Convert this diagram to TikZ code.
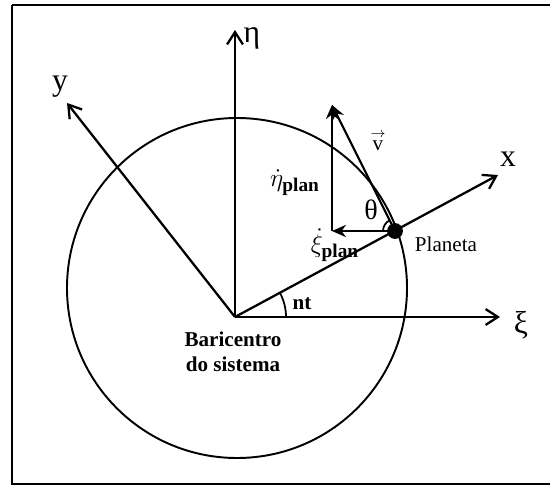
\documentclass[tikz,border=0pt]{standalone}
\usepackage{fontspec}
\setmainfont{Liberation Serif}
\usetikzlibrary{arrows.meta,calc}
\begin{document}
\begin{tikzpicture}[x=0.02cm,y=-0.02cm,
  axis/.style={line width=1.3pt,-{Straight Barb[length=7pt,width=9pt,line width=1.3pt]}},
  comp/.style={line width=1.2pt,-{Stealth[length=8pt,width=7pt]}},
  lbl/.style={inner sep=0pt,font=\fontsize{12}{14}\selectfont},
  big/.style={inner sep=0pt,font=\fontsize{18}{20}\selectfont}]
\useasboundingbox (0,0) rectangle (550,486);
% frame
\draw[line width=1.3pt] (12,5) -- (560,5) (12,5) -- (12,484) -- (560,484);
% circle (orbit)
\draw[line width=1.1pt] (237,288) circle[radius=170];
% origin and planet
\coordinate (O) at (235,317);
\node[circle,fill,inner sep=0pt,minimum size=9pt] (P) at (395,231) {};
\coordinate (etaTip) at (235,30);
\coordinate (xiTip) at (500,317);
\coordinate (xTip) at (498,175);
\coordinate (yTip) at (67,103);
\coordinate (vTip) at (332,105);
\coordinate (hTip) at (332,231);
% axes
\draw[axis] (O) -- (etaTip);
\draw[axis] (O) -- (xiTip);
\draw[axis] (O) -- (xTip);
\draw[axis] (O) -- (yTip);
% velocity components
\draw[comp] (P.center) -- (hTip);
\draw[comp] (hTip) -- (vTip);
\draw[comp] (P.center) -- (vTip);
% angles
\draw[line width=1pt] ($(O)+(51,0)$) arc[start angle=0,end angle=-28.4,radius=51];
\draw[line width=1pt] (383,231) arc[start angle=-180,end angle=-116.6,radius=12];
% labels
\node[big] (etaL) at (252,38) {η};
\node[big] (xiL) at (521,325) {ξ};
\node[big] (xL) at (508,159) {x};
\node[big] (yL) at (60,87) {y};
\node[lbl,font=\bfseries\fontsize{12}{14}\selectfont] (ntL) at (302,304) {nt};
\node[lbl,font=\bfseries\fontsize{12}{14}\selectfont,align=center] (bar) at (233,352) {Baricentro\\do sistema};
\node[lbl] (plan) at (446,244) {Planeta};
\node[big,font=\fontsize{16}{18}\selectfont] (thL) at (371,210) {θ};
\node[lbl] (vL) at (378,141) {$\stackrel{\rightarrow}{\mathrm{v}}$};
\node[lbl,font=\fontsize{14}{16}\selectfont] (etaP) at (295,183) {$\dot\eta_{\textbf{\fontsize{11}{13}\selectfont plan}}$};
\node[lbl,font=\fontsize{14}{16}\selectfont] (xiP) at (335,245) {$\dot\xi_{\textbf{\fontsize{11}{13}\selectfont plan}}$};
\end{tikzpicture}
\end{document}
